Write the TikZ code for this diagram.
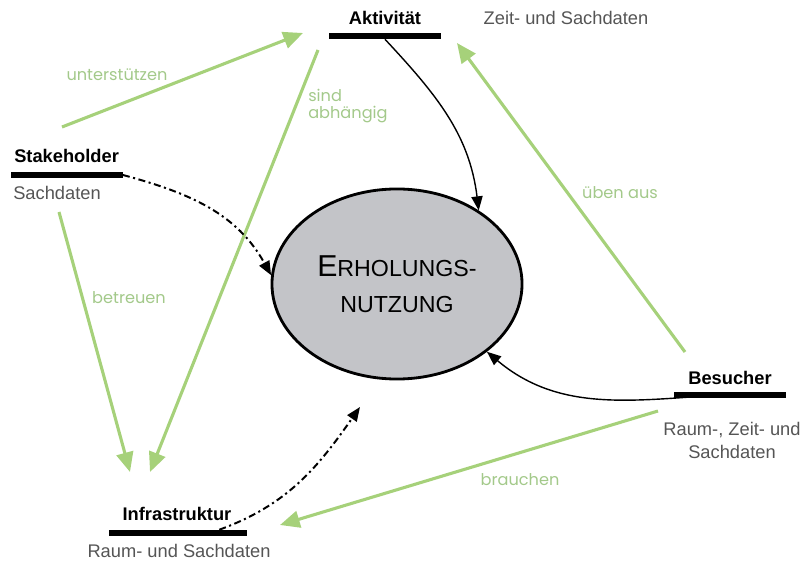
\documentclass[tikz,border=0pt]{standalone}
\usepackage{fontspec}
\setmainfont{Liberation Sans}
\newfontfamily\labelfont{Poppins}
\usetikzlibrary{arrows.meta,shapes.geometric}
\definecolor{flowgreen}{HTML}{A6D17A}
\definecolor{labelgreen}{HTML}{A3C98A}
\definecolor{datagray}{HTML}{555555}
\definecolor{ellipsegray}{HTML}{C3C4C8}

\begin{document}
\begin{tikzpicture}
	[x=0.025cm,y=0.025cm,
	balken/.style={fill=black,inner sep=0pt,minimum height=0.15cm,minimum width=2.78cm},
	titel/.style={font=\bfseries\fontsize{13}{15}\selectfont,inner sep=0pt},
	daten/.style={font=\fontsize{13}{16.4}\selectfont,text=datagray,inner sep=0pt,align=center},
	flow/.style={draw=flowgreen,line width=2.2pt,-{Triangle[length=14pt,width=12pt]}},
	flowtext/.style={font=\labelfont\fontsize{11.5}{12.5}\selectfont,text=labelgreen,inner sep=0pt,align=left},
	link/.style={draw=black,line width=1pt,-{Triangle[length=10pt,width=8pt]}},
	dashlink/.style={link,line width=1.4pt,dash pattern=on 5pt off 2.5pt on 1.5pt off 2.5pt}]
	\useasboundingbox (0,0) rectangle (803,560);

	\node[ellipse,draw,line width=2pt,fill=ellipsegray,inner sep=0pt,
		minimum width=6.25cm,minimum height=4.75cm,align=center,
		font=\fontsize{16.5}{26}\selectfont] (nutzung) at (397,276)
		{{\fontsize{21.5}{26}\selectfont E}RHOLUNGS-\\NUTZUNG};

	\node[balken] (aktivitaet) at (385,524) {};
	\node[titel] (aktivitaet titel) at (385,542) {Aktivität};
	\node[daten] (aktivitaet daten) at (566,542) {Zeit- und Sachdaten};

	\node[balken] (stakeholder) at (67,385) {};
	\node[titel,anchor=west] (stakeholder titel) at (14,404) {Stakeholder};
	\node[daten,anchor=west] (stakeholder daten) at (13,367) {Sachdaten};

	\node[balken] (besucher) at (730,165) {};
	\node[titel] (besucher titel) at (730,182) {Besucher};
	\node[daten] (besucher daten) at (732,120) {Raum-, Zeit- und\\Sachdaten};

	\node[balken,minimum width=3.45cm] (infrastruktur) at (178,27) {};
	\node[titel] (infrastruktur titel) at (177,46) {Infrastruktur};
	\node[daten] (infrastruktur daten) at (179,9) {Raum- und Sachdaten};

	\coordinate (unterstuetzen a) at (62,433);
	\coordinate (unterstuetzen b) at (303,527);
	\coordinate (abhaengig a) at (318,510);
	\coordinate (abhaengig b) at (150,88);
	\coordinate (betreuen a) at (59,348);
	\coordinate (betreuen b) at (130,88);
	\coordinate (ueben a) at (685,208);
	\coordinate (ueben b) at (457,517);
	\coordinate (brauchen a) at (658,149);
	\coordinate (brauchen b) at (280,35);
	\coordinate (offen) at (360,153);

	\draw[flow] (unterstuetzen a) -- (unterstuetzen b);
	\draw[flow] (abhaengig a) -- (abhaengig b);
	\draw[flow] (betreuen a) -- (betreuen b);
	\draw[flow] (ueben a) -- (ueben b);
	\draw[flow] (brauchen a) -- (brauchen b);

	\node[flowtext] (unterstuetzen) at (117,485) {unterstützen};
	\node[flowtext,anchor=west] (abhaengig) at (308,454) {sind\\abhängig};
	\node[flowtext] (betreuen) at (129,262) {betreuen};
	\node[flowtext] (ueben) at (620,367) {üben aus};
	\node[flowtext] (brauchen) at (520,80) {brauchen};

	\draw[link] (aktivitaet.south) to[out=-47,in=97] (nutzung.42);
	\draw[link] ([xshift=-0.3cm]besucher.center) to[out=184,in=-40] (nutzung.-37);
	\draw[dashlink] (stakeholder.east) to[out=-15,in=119] (nutzung.176);
	\draw[dashlink] ([xshift=-0.7cm]infrastruktur.north east) to[out=20,in=-125] (offen);
\end{tikzpicture}
\end{document}
